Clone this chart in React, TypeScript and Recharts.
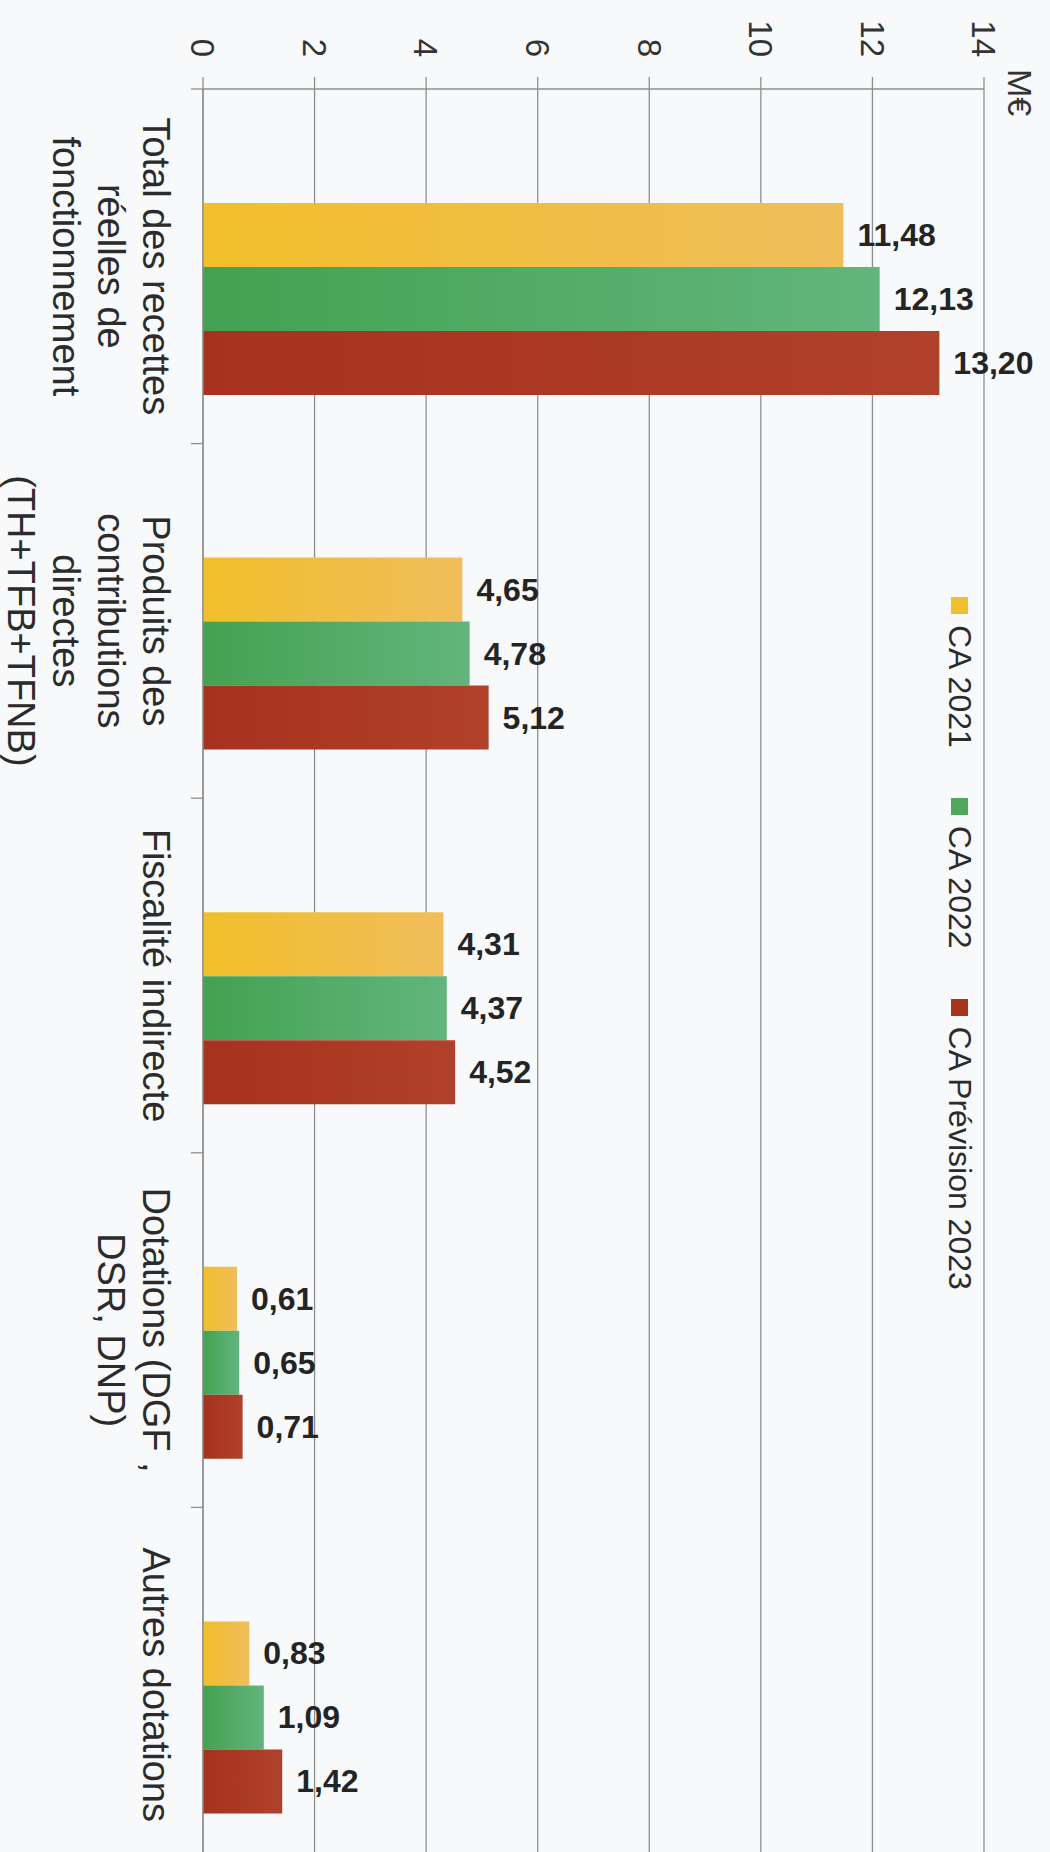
import React from 'react';
import { BarChart, Bar, XAxis, YAxis, CartesianGrid, LabelList, Legend } from 'recharts';

// ---- data ----
const categoryLines: string[][] = [
  ['Total des recettes', 'réelles de', 'fonctionnement'],
  ['Produits des', 'contributions', 'directes', '(TH+TFB+TFNB)'],
  ['Fiscalité indirecte'],
  ['Dotations (DGF ,', 'DSR, DNP)'],
  ['Autres dotations'],
];
const categories: string[] = categoryLines.map((l) => l.join(' '));
const ca2021: number[] = [11.48, 4.65, 4.31, 0.61, 0.83];
const ca2022: number[] = [12.13, 4.78, 4.37, 0.65, 1.09];
const ca2023: number[] = [13.2, 5.12, 4.52, 0.71, 1.42];
const valueTicks: number[] = [0, 2, 4, 6, 8, 10, 12, 14];
const seriesNames: string[] = ['CA 2021', 'CA 2022', 'CA Prévision 2023'];
const seriesKeys: string[] = ['ca2021', 'ca2022', 'ca2023'];
const unitLabel = 'M€';

const data = categories.map((c, i) => ({
  name: c,
  ca2021: ca2021[i],
  ca2022: ca2022[i],
  ca2023: ca2023[i],
}));

// ---- styles ----
const FONT = '"Liberation Sans", Arial, Helvetica, sans-serif';
const GRID = '#8e8e8e';
const BG = '#F8F9FB';
const legendColors = ['#F1BF2E', '#4EA85E', '#A8341F'];
const gradStops: [string, string][] = [
  ['#F0BD5C', '#F1BF2A'],
  ['#62B57C', '#43A251'],
  ['#B0412A', '#A6321F'],
];
const PAD = 33;
const CHART_W = 1920;
const CHART_H = 1050;

const fmt = (v: number) => v.toFixed(2).replace('.', ',');

function CategoryTick(props: any) {
  const { x, y, payload } = props;
  const idx = categories.indexOf(payload.value);
  const lines = categoryLines[idx] || [String(payload.value)];
  const half = typeof payload.offset === 'number' ? payload.offset : 177;
  const cx = x - PAD;
  const boundary = x - half - PAD;
  return (
    <g>
      <line x1={boundary} x2={boundary} y1={y} y2={y + 12} stroke={GRID} strokeWidth={1.3} />
      <text x={cx} y={y + 60} textAnchor="middle" fontSize={38} fill="#2b2b2b" fontFamily={FONT}>
        {lines.map((l, i) => (
          <tspan key={i} x={cx} dy={i === 0 ? 0 : 45}>
            {l}
          </tspan>
        ))}
      </text>
    </g>
  );
}

function ValueLabel(props: any) {
  const { x, y, width, value } = props;
  const cx = x + width / 2;
  const cy = y - 14;
  return (
    <text
      x={cx}
      y={cy}
      transform={`rotate(-90 ${cx} ${cy})`}
      textAnchor="start"
      dominantBaseline="central"
      fontSize={32}
      fontWeight="bold"
      fill="#242424"
      fontFamily={FONT}
    >
      {fmt(Number(value))}
    </text>
  );
}

function UnitLabel(props: any) {
  const vb = props.viewBox || { x: 0, y: 66, width: 89 };
  return (
    <text
      x={vb.x + vb.width - 20}
      y={vb.y - 36}
      textAnchor="start"
      dominantBaseline="central"
      fontSize={34}
      fill="#333"
      fontFamily={FONT}
    >
      {unitLabel}
    </text>
  );
}

function LegendContent() {
  return (
    <div
      style={{
        display: 'flex',
        alignItems: 'center',
        fontSize: 32,
        lineHeight: '36px',
        fontFamily: FONT,
        color: '#2b2b2b',
        whiteSpace: 'nowrap',
      }}
    >
      {seriesNames.map((n, i) => (
        <span key={n} style={{ display: 'flex', alignItems: 'center', marginRight: 50 }}>
          <span
            style={{
              display: 'inline-block',
              width: 17,
              height: 17,
              background: legendColors[i],
              marginRight: 11,
            }}
          />
          {n}
        </span>
      ))}
    </div>
  );
}

export default function App() {
  return (
    <div
      style={{
        position: 'absolute',
        top: 0,
        left: 0,
        width: 1050,
        height: 1852,
        overflow: 'hidden',
        background: BG,
      }}
    >
      <div
        style={{
          position: 'absolute',
          top: 0,
          left: 0,
          width: CHART_W,
          height: CHART_H,
          transformOrigin: '0 0',
          transform: 'translateX(1050px) rotate(90deg)',
        }}
      >
        <BarChart
          width={CHART_W}
          height={CHART_H}
          data={data}
          margin={{ top: 66, right: 25, bottom: 0, left: 0 }}
          barCategoryGap={81}
          barGap={0}
        >
          <defs>
            {seriesKeys.map((k, i) => (
              <linearGradient key={k} id={`g-${k}`} x1="0" y1="0" x2="0" y2="1">
                <stop offset="0%" stopColor={gradStops[i][0]} />
                <stop offset="100%" stopColor={gradStops[i][1]} />
              </linearGradient>
            ))}
          </defs>
          <CartesianGrid vertical={false} stroke={GRID} strokeWidth={1.3} />
          <XAxis
            dataKey="name"
            type="category"
            height={203}
            padding={{ left: PAD, right: 0 }}
            tickSize={0}
            tickMargin={0}
            tickLine={false}
            axisLine={{ stroke: GRID, strokeWidth: 1.3 }}
            tick={<CategoryTick />}
            interval={0}
          />
          <YAxis
            type="number"
            domain={[0, 14]}
            ticks={valueTicks}
            width={89}
            tickSize={12}
            tickMargin={20}
            tickLine={{ stroke: GRID, strokeWidth: 1.3 }}
            axisLine={{ stroke: GRID, strokeWidth: 1.3 }}
            tick={{ fontSize: 33, fill: '#333', fontFamily: FONT }}
            label={(p: any) => <UnitLabel {...p} />}
          />
          <Legend
            layout="horizontal"
            verticalAlign="middle"
            align="center"
            content={() => <LegendContent />}
            wrapperStyle={{ top: 72, left: 597, width: 'auto', height: 'auto' }}
          />
          {seriesKeys.map((k, i) => (
            <Bar key={k} dataKey={k} name={seriesNames[i]} fill={`url(#g-${k})`} isAnimationActive={false}>
              <LabelList dataKey={k} content={<ValueLabel />} />
            </Bar>
          ))}
        </BarChart>
      </div>
    </div>
  );
}
